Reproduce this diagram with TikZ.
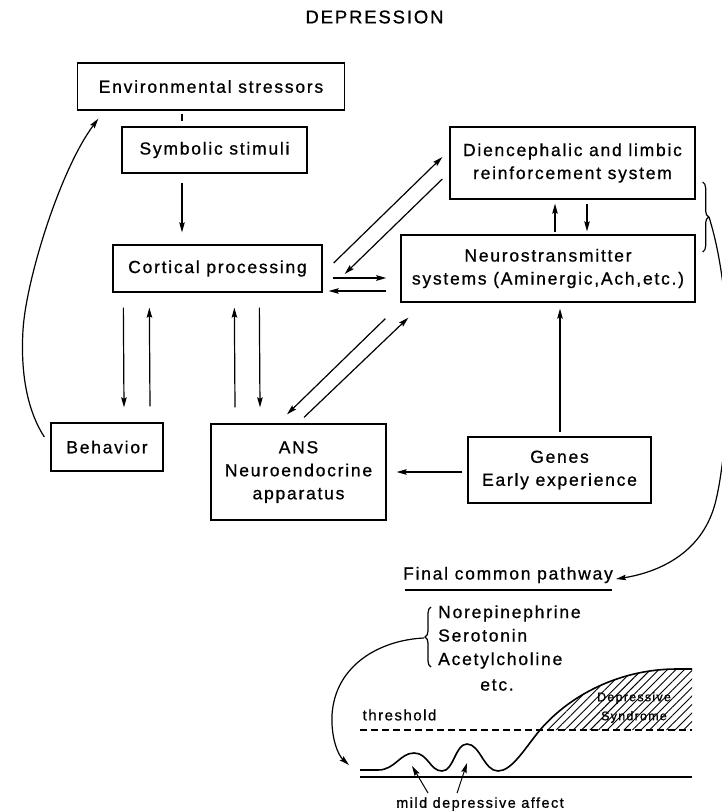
\documentclass[tikz,border=0pt]{standalone}
\usepackage{fontspec}
\setmainfont{Liberation Sans}
\newfontfamily\lab[LetterSpace=10,FakeBold=0.8]{Liberation Sans}
\usetikzlibrary{arrows.meta,calc,decorations.pathreplacing,patterns.meta}
\begin{document}
\begin{tikzpicture}[x=1pt,y=-1pt,
  box/.style={draw,line width=1.3pt,align=center,inner sep=0pt,
    font=\lab\fontsize{17.5}{23}\selectfont},
  lbl/.style={inner sep=0pt,align=center,font=\lab\fontsize{17.5}{23.5}\selectfont},
  arr/.style={line width=1.2pt,-{Stealth[length=10pt,width=5.5pt,inset=1.5pt]}},
  ln/.style={line width=1.2pt}]
\path[use as bounding box,clip] (0,0) rectangle (722,811);

\node[lbl,font=\lab\fontsize{18.5}{22}\selectfont] (title) at (374.5,17) {DEPRESSION};

\node[box,minimum width=267pt,minimum height=47pt] (env) at (211,86.5) {Environmental stressors};
\node[box,minimum width=185pt,minimum height=46pt] (sym) at (214.5,150) {Symbolic stimuli};
\node[box,minimum width=209pt,minimum height=47pt] (cort) at (217.5,268.5) {Cortical processing};
\node[box,minimum width=245pt,minimum height=72pt] (dien) at (572.5,163) {Diencephalic and limbic\\reinforcement system};
\node[box,minimum width=294pt,minimum height=67pt] (neuro) at (548,268.5) {Neurostransmitter\\systems (Aminergic,Ach,etc.)};
\node[box,minimum width=112pt,minimum height=48pt] (behav) at (107,447) {Behavior};
\node[box,minimum width=175pt,minimum height=96pt] (ans) at (298.5,472) {ANS\\Neuroendocrine\\apparatus};
\node[box,minimum width=183pt,minimum height=66pt] (genes) at (559.5,470) {Genes\\Early experience};

% connectors
\draw[ln] ($(env.south)+(-29,3)$) -- ($(sym.north)+(-32.5,-5)$);
\draw[arr] ($(sym.south)+(-32.5,9)$) -- ($(cort.north)+(-35.5,-12)$);
\draw[arr] ($(cort.south west)+(11,15)$) -- ($(behav.north)+(17,-15)$);
\draw[arr] ($(behav.north)+(43,-16)$) -- ($(cort.south west)+(37,15)$);
\draw[arr] ($(ans.north)+(-63.5,-16)$) -- ($(cort.south west)+(122,15)$);
\draw[arr] ($(cort.south west)+(147,15)$) -- ($(ans.north)+(-38.5,-16)$);
\draw[arr] ($(cort.east)+(11,-5.5)$) -- ($(dien.west)+(-7,-6)$);
\draw[arr] ($(dien.west)+(-7,16)$) -- ($(cort.east)+(22,5.5)$);
\draw[arr,line width=1.8pt] ($(cort.east)+(10,9.5)$) -- ($(neuro.west)+(-14,9.5)$);
\draw[arr] ($(neuro.west)+(-14,22.5)$) -- ($(cort.east)+(6,22.5)$);
\draw[arr] ($(neuro.north)+(7,-2)$) -- ($(dien.south)+(-17.5,4)$);
\draw[arr] ($(dien.south)+(14.5,4)$) -- ($(neuro.north)+(39,-3)$);
\draw[arr] ($(neuro.south west)+(-15,16)$) -- ($(ans.north)+(-11.5,-9)$);
\draw[arr] ($(ans.north)+(5.5,-6)$) -- ($(neuro.south west)+(8,15)$);
\draw[arr] ($(genes.north)+(0.5,-4)$) -- ($(neuro.south)+(12,6)$);
\draw[arr] ($(genes.west)+(-5,2)$) -- ($(ans.east)+(10,0)$);

% feedback from behavior to environment
\coordinate (bstart) at ($(behav.west)+(-6,-10)$);
\coordinate (eend) at ($(env.south west)+(21.5,8)$);
\draw[arr] (bstart) .. controls (30,415) and (20,380) .. (23,330)
  .. controls (26,280) and (60,170) .. (eend);

% right brace
\draw[ln,decorate,decoration={brace,amplitude=6pt}]
  ($(dien.east)+(7,19)$) -- ($(neuro.east)+(7,-16.5)$);
\coordinate (bt) at (709,217);

% final common pathway
\node[lbl] (fcp) at (508,575) {Final common pathway};
\draw[ln] (405,590) -- (612,590);
\draw[arr] (bt) .. controls (738,310) and (728,450) .. (716,500)
  .. controls (704,552) and (660,572) .. ($(fcp.east)+(3,4)$);

% transmitter list
\node[lbl,anchor=west,align=left] (list) at (438,637) {Norepinephrine\\Serotonin\\Acetylcholine};
\node[lbl] (etc) at (497,685) {etc.};
\draw[ln,decorate,decoration={brace,amplitude=6pt}] (431,667) -- (431,607);
\coordinate (lt) at (424,638);
\coordinate (gtip) at (349,765);
\draw[arr] (lt) .. controls (380,640) and (335,665) .. (332,715)
  .. controls (331,738) and (338,755) .. (gtip);

% graph
\fill[pattern={Lines[angle=45,distance=6pt,line width=0.9pt]}]
  (540,730) .. controls (570,695) and (620,669) .. (677,669) -- (692,669) -- (692,730) -- cycle;
\draw[ln,dash pattern=on 7pt off 4pt] (360,730) -- (692,730);
\draw[ln] (360,777) -- (692,777);
\draw[line width=1.6pt] (360,770) -- (378,770)
  .. controls (395,770) and (400,753) .. (414,753)
  .. controls (428,753) and (430,771) .. (442,771)
  .. controls (454,771) and (455,744) .. (467,744)
  .. controls (480,744) and (484,771) .. (498,771)
  .. controls (512,771) and (525,748) .. (540,730)
  .. controls (570,695) and (620,669) .. (677,669) -- (692,669);
\node[lbl,font=\lab\fontsize{15}{18}\selectfont] (thr) at (399.5,715) {threshold};
\node[lbl,font=\lab\fontsize{12.5}{19}\selectfont] (dep) at (634,707.5) {Depressive\\Syndrome};
\node[lbl,font=\lab\fontsize{14.5}{18}\selectfont] (mild) at (480,804) {mild depressive affect};
\coordinate (pk1) at (412,766);
\coordinate (pk2) at (467,763);
\draw[arr,line width=1pt] ($(mild.north west)+(32,-4)$) -- (pk1);
\draw[arr,line width=1pt] ($(mild.north west)+(61,-4)$) -- (pk2);
\end{tikzpicture}
\end{document}
